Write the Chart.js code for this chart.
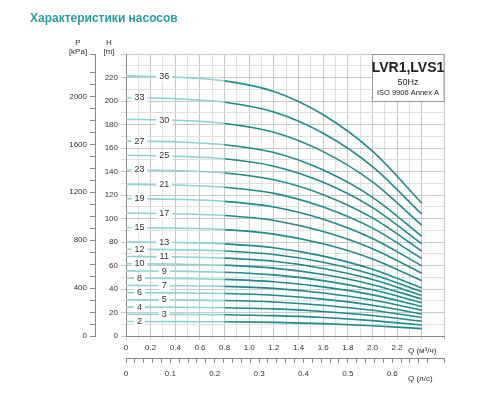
<!DOCTYPE html>
<html><head><meta charset="utf-8">
<script src="https://cdn.jsdelivr.net/npm/chart.js@4"></script>
<style>html,body{margin:0;background:#fff}#w{width:500px;height:400px}</style>
</head><body><div id="w"><canvas id="c"></canvas></div>
<script>
const flows = [0, 0.4, 0.8, 1.2, 1.6, 2.0, 2.4];
const stages = [2,3,4,5,6,7,8,9,10,11,12,13,15,17,19,21,23,25,27,30,33,36];
const heads = [
 [12.3,12.2,12.1,11.6,10.5,8.7,6.3],
 [18.5,18.4,18.1,17.3,15.7,13.1,9.4],
 [24.6,24.5,24.1,23.1,20.9,17.5,12.6],
 [30.8,30.6,30.2,28.9,26.2,21.9,15.7],
 [36.9,36.7,36.2,34.7,31.4,26.2,18.8],
 [43.1,42.8,42.2,40.5,36.6,30.6,22.0],
 [49.2,49.0,48.2,46.2,41.8,35.0,25.1],
 [55.4,55.1,54.3,52.0,47.1,39.3,28.3],
 [61.5,61.2,60.3,57.8,52.3,43.7,31.4],
 [67.7,67.3,66.3,63.6,57.5,48.1,34.5],
 [73.8,73.4,72.4,69.4,62.8,52.4,37.7],
 [80.0,79.6,78.4,75.1,68.0,56.8,40.8],
 [92.3,91.8,90.5,86.7,78.5,65.6,47.1],
 [104.6,104.0,102.5,98.3,88.9,74.3,53.4],
 [116.9,116.3,114.6,109.8,99.4,83.0,59.7],
 [129.2,128.5,126.6,121.4,109.8,91.8,65.9],
 [141.5,140.8,138.7,132.9,120.3,100.5,72.2],
 [153.8,153.0,150.8,144.5,130.8,109.3,78.5],
 [166.1,165.2,162.8,156.1,141.2,118.0,84.8],
 [184.5,183.6,180.9,173.4,156.9,131.1,94.2],
 [203.0,202.0,199.0,190.7,172.6,144.2,103.6],
 [221.4,220.3,217.1,208.1,188.3,157.3,113.0]
];
const labelQ = [0.11,0.31];

const datasets = stages.map((s,i)=>({
  label: String(s),
  data: flows.map((q,j)=>({x:q,y:heads[i][j]})),
  borderWidth: 1.6, pointRadius: 0, cubicInterpolationMode:'monotone', fill:false,
  borderColor:'#1f8b8b',
  segment:{borderColor: ctx => ctx.p0.parsed.x < 0.7 ? '#8fd3d3' : '#1f8b8b'}
}));

const deco = {
  id:'deco',
  afterDatasetsDraw(chart){
    const c = chart.ctx, x = chart.scales.x, y = chart.scales.y;
    c.save();
    c.font = '9px "Liberation Sans", Arial';
    c.textAlign='center'; c.textBaseline='middle';
    stages.forEach((s,i)=>{
      const odd = (stages.length-1-i)%2===0; // 36 -> right position
      const q = odd ? labelQ[1] : labelQ[0];
      // find head at q via linear between 0 and 0.4
      const h = heads[i][0] + (heads[i][1]-heads[i][0])*q/0.4;
      const px = x.getPixelForValue(q), py = y.getPixelForValue(h);
      const w = c.measureText(String(s)).width + 6;
      c.fillStyle='#fff'; c.fillRect(px-w/2, py-5, w, 10);
      c.fillStyle='#333'; c.fillText(String(s), px, py);
    });
    // info box
    const a = chart.chartArea;
    c.fillStyle='#fff'; c.fillRect(a.right-72, a.top, 72, 47);
    c.strokeStyle='#999'; c.lineWidth=1; c.strokeRect(a.right-72+0.5, a.top+0.5, 71.5, 47);
    c.fillStyle='#222';
    c.font='bold 14px "Liberation Sans", Arial'; c.fillText('LVR1,LVS1', a.right-36, a.top+14);
    c.font='9px "Liberation Sans", Arial'; c.fillText('50Hz', a.right-36, a.top+29);
    c.font='7.5px "Liberation Sans", Arial'; c.fillText('ISO 9906 Annex A', a.right-36, a.top+39);
    // axis titles
    c.font='8px "Liberation Sans", Arial'; c.fillStyle='#333';
    c.fillText('P', 78, 43); c.fillText('[kPa]', 78, 52);
    c.fillText('H', 109, 43); c.fillText('[m]', 109, 52);
    c.textAlign='left';
    c.fillText('Q (м³/ч)', 408, 351);
    c.fillText('Q (л/с)', 408, 379);
    // title
    c.font='bold 12px "Liberation Sans", Arial'; c.fillStyle='#2a9d9d';
    c.fillText('Характеристики насосов', 30, 19);
    c.restore();
  }
};

new Chart(document.getElementById('c'), {
  type:'line',
  data:{datasets},
  plugins:[deco],
  options:{
    responsive:true, maintainAspectRatio:false, animation:false,
    layout:{padding:{left:60,top:54,right:56,bottom:12}},
    plugins:{legend:{display:false}, tooltip:{enabled:false}},
    scales:{
      x:{type:'linear', min:0, max:2.58, position:'bottom', weight:0,
        afterFit:s=>{s.height=22;},
        border:{color:'#888'},
        grid:{color:ctx=>Math.round(ctx.tick.value*10)%2===0?'#c8c8c8':'#e0e0e0', tickLength:4},
        ticks:{stepSize:0.1, autoSkip:false, maxRotation:0, color:'#333', font:{size:8},
          callback:v=>{const n=Math.round(v*10); return (n%2===0 && n<=22)? (n/10).toFixed(1).replace('0.0','0'):'';}}},
      x2:{type:'linear', min:0, max:2.58/3.6, position:'bottom', weight:1,
        afterFit:s=>{s.height=30;},
        border:{color:'#888'},
        grid:{drawOnChartArea:false, color:'#888', tickLength:5},
        ticks:{stepSize:0.02, autoSkip:false, maxRotation:0, color:'#333', font:{size:8}, padding:6,
          callback:v=>{const n=Math.round(v*50); return (n%5===0 && n<=30)? (n===0?'0':(n/50).toFixed(1)):'';}}},
      y:{type:'linear', min:0, max:240, position:'left', weight:0,
        afterFit:s=>{s.width=31;},
        border:{color:'#888'},
        grid:{color:ctx=>ctx.tick.value%20===0?'#c8c8c8':'#e0e0e0', tickLength:5},
        ticks:{stepSize:10, autoSkip:false, color:'#333', font:{size:8},
          callback:v=>(v%20===0 && v<=220)?String(v):''}},
      p:{type:'linear', min:0, max:240*9.81, position:'left', weight:1,
        afterFit:s=>{s.width=35;},
        border:{color:'#888'},
        grid:{drawOnChartArea:false, color:'#888', tickLength:5},
        ticks:{stepSize:100, autoSkip:false, color:'#333', font:{size:8},
          callback:v=>(v%400===0)?String(v):''}}
    }
  }
});
</script></body></html>
